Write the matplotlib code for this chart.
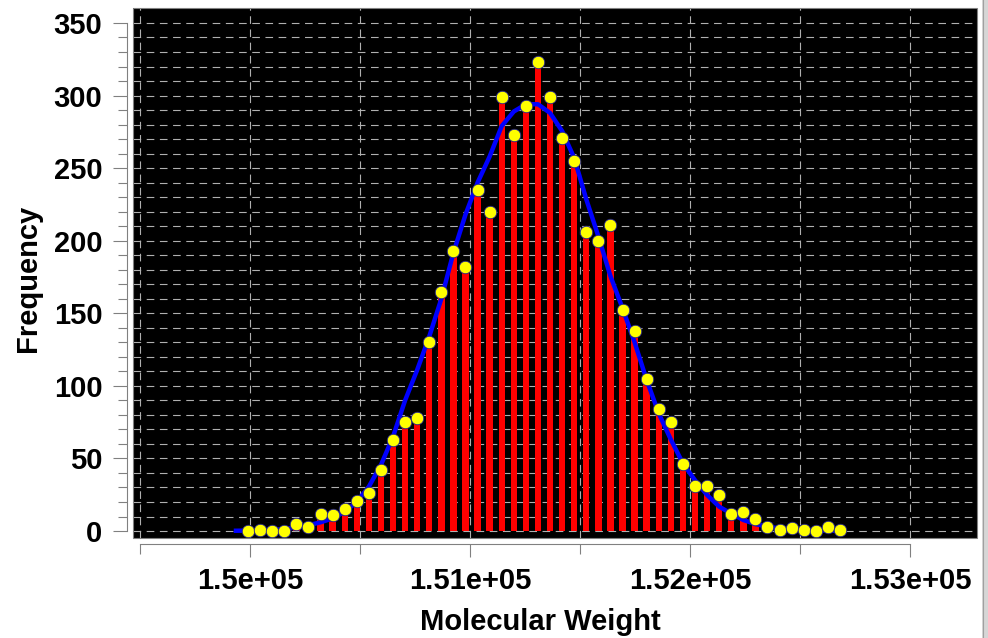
import matplotlib
matplotlib.use('Agg')
import numpy as np
import matplotlib.pyplot as plt
from matplotlib.ticker import FixedLocator, FixedFormatter
from matplotlib.patches import Rectangle

plt.rcParams['font.family'] = ['Liberation Sans', 'DejaVu Sans']
plt.rcParams['font.weight'] = 'bold'
plt.rcParams['lines.scale_dashes'] = False

# histogram bins (molecular weight, Da)
mw_start = 149991
bin_step = 54.9
counts = [0, 1, 0, 0, 5, 3, 12, 11, 15, 21,
          26, 42, 63, 75, 78, 130, 165, 193, 182, 235,
          220, 299, 273, 293, 323, 299, 271, 255, 206, 200,
          211, 152, 138, 105, 84, 75, 46, 31, 31, 25,
          12, 13, 8, 3, 1, 2, 1, 0, 3, 1]

# gaussian fit, read at each bin (first point one bin before the data)
fit_vals = [0.2, 0.3, 0.5, 0.8, 1.4, 2.5, 4, 6, 8.7, 13.3,
            20, 30.6, 45.5, 65, 90, 111, 134, 160, 191.7, 218,
            240, 258, 279, 289, 294, 294, 288, 275.5, 257, 228.5,
            203, 175.6, 153.5, 130, 104, 81, 63, 46.6, 35, 24.8,
            16.8, 12, 7.6, 4.8, 3, 1.8, 1.1, 0.6, 0.4, 0.2, 0.1]

xmajor = [150000, 151000, 152000, 153000]
xmajor_labels = ['1.5e+05', '1.51e+05', '1.52e+05', '1.53e+05']
xminor = [149500, 150500, 151500, 152500]

mw_bins = mw_start + bin_step * np.arange(len(counts))
fit_x = mw_start + bin_step * np.arange(-1, len(fit_vals) - 1)

fig = plt.figure(figsize=(9.88, 6.38), dpi=100)
ax = fig.add_axes([133 / 988, 100 / 638, 844 / 988, 530 / 638])
ax.set_facecolor('black')

ax.bar(mw_bins, counts, width=29, color='#ff0000', zorder=3)
ax.plot(fit_x, fit_vals, color='#0000ff', lw=3.2, zorder=4)
ax.plot(mw_bins, counts, 'o', ms=9, mfc='#ffff00', mec='#20208a', mew=0.6, zorder=5)

ax.set_xlim(149468, 153304)
ax.set_ylim(-4.8, 360.3)

# ticks
ax.xaxis.set_major_locator(FixedLocator(xmajor))
ax.xaxis.set_major_formatter(FixedFormatter(xmajor_labels))
ax.xaxis.set_minor_locator(FixedLocator(xminor))
ax.yaxis.set_major_locator(FixedLocator(np.arange(0, 351, 50)))
ax.yaxis.set_minor_locator(FixedLocator(np.arange(0, 351, 10)))

ax.tick_params(axis='both', which='major', labelsize=21, color='#808080', width=0.8)
ax.tick_params(axis='y', which='major', length=10, pad=7.5)
ax.tick_params(axis='y', which='minor', length=6.5, color='#808080', width=0.8)
ax.tick_params(axis='x', which='major', length=9.5, pad=7)
ax.tick_params(axis='x', which='minor', length=7, color='#808080', width=0.8)
for lab in ax.get_xticklabels() + ax.get_yticklabels():
    lab.set_fontweight('bold')

# grid
ax.grid(True, which='both', color='#b0b0b0', lw=0.8, linestyle=(0, (5.5, 4)), zorder=1)
ax.set_axisbelow(True)

# offset axis lines, plus grey frame round the plot area
for side in ['top', 'right']:
    ax.spines[side].set_visible(False)
ax.spines['left'].set_position(('outward', 4.5))
ax.spines['bottom'].set_position(('outward', 4.5))
ax.spines['left'].set_bounds(0, 350)
ax.spines['bottom'].set_bounds(149500, 153000)
for side in ['left', 'bottom']:
    ax.spines[side].set_color('#808080')
    ax.spines[side].set_linewidth(0.8)
ax.add_patch(Rectangle((0, 0), 1, 1, transform=ax.transAxes, fill=False,
                       edgecolor='#808080', lw=0.8, zorder=6, clip_on=False))

fig.text(27.5 / 988, 1 - 278 / 638, 'Frequency', rotation=90, ha='center', va='center',
         fontsize=21, fontweight='bold')
fig.text(540 / 988, 1 - 630 / 638, 'Molecular Weight', ha='center', va='baseline',
         fontsize=21, fontweight='bold')

# grey strip at the right border
fig.patches.append(Rectangle((982 / 988, 0), 6 / 988, 1, transform=fig.transFigure,
                             facecolor='#d6d6d6', edgecolor='none'))
fig.lines.append(plt.Line2D([982.5 / 988, 982.5 / 988], [0, 1], transform=fig.transFigure,
                            color='#a0a0a0', lw=0.8))

fig.savefig('out.png', dpi=100, facecolor='white')
